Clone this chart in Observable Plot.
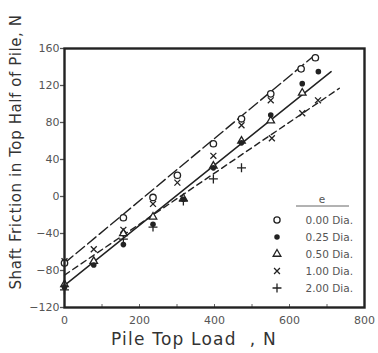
<!DOCTYPE html>
<html><head><meta charset="utf-8">
<script src="https://cdn.jsdelivr.net/npm/d3@7"></script>
<script src="https://cdn.jsdelivr.net/npm/@observablehq/plot@0.6"></script>
<style>body{margin:0;background:#fff} svg{display:block}</style>
</head><body><div id="chart"></div>
<script>
// ---- data ----
const seriesNames = ["0.00 Dia.", "0.25 Dia.", "0.50 Dia.", "1.00 Dia.", "2.00 Dia."];
const legendTitle = "e";

const load000 = [0, 157, 236, 301, 397, 472, 550, 631, 669];
const fric000 = [-72, -23, -1, 23, 57, 84, 111, 138, 150];

const load025 = [0, 78, 157, 236, 317, 397, 472, 550, 634, 677];
const fric025 = [-98, -74, -52, -30, -3, 31, 58, 88, 122, 135];

const load050 = [0, 78, 157, 236, 317, 397, 472, 550, 634];
const fric050 = [-95, -70, -40, -22, -2, 33, 60, 82, 112];

const load100 = [0, 78, 157, 236, 301, 397, 472, 550, 553, 634, 676];
const fric100 = [-70, -57, -36, -8, 15, 44, 77, 104, 63, 90, 104];

const load200 = [0, 157, 236, 317, 397, 472];
const fric200 = [-101, -46, -33, -5, 19, 31];

// fitted lines (end points)
const lineLongLoad = [0, 674],  lineLongFric = [-72, 155];   // long dashes, 0.00 Dia
const lineSolidLoad = [0, 711], lineSolidFric = [-96, 135];  // solid
const lineShortLoad = [0, 733], lineShortFric = [-85, 117];  // short dashes

const xTickLabels = [0, 200, 400, 600, 800];
const xMinorTicks = [100, 200, 300, 400, 500, 600, 700];
const yTickLabels = [-120, -80, -40, 0, 40, 80, 120, 160];

const xTitle = "Pile Top Load  , N";
const yTitle = "Shaft Friction in Top Half of Pile, N";

// ---- build tables ----
const zip = (xs, ys) => xs.map((x, i) => ({x, y: ys[i]}));
const s000 = zip(load000, fric000);
const s025 = zip(load025, fric025);
const s050 = zip(load050, fric050);
const s100 = zip(load100, fric100);
const s200 = zip(load200, fric200);
const lLong = zip(lineLongLoad, lineLongFric);
const lSolid = zip(lineSolidLoad, lineSolidFric);
const lShort = zip(lineShortLoad, lineShortFric);

const INK = "#222";
const TXT = "#555";
const FONT = "DejaVu Sans, sans-serif";

const plot = Plot.plot({
  width: 378, height: 353,
  marginLeft: 64, marginRight: 14, marginTop: 48, marginBottom: 46,
  style: {fontFamily: FONT, fontSize: "11px", background: "#fff"},
  x: {domain: [0, 800]},
  y: {domain: [-120, 160]},
  marks: [
    Plot.axisY({ticks: yTickLabels, tickSize: 4, tickPadding: 1, label: null, color: TXT, strokeWidth: 1.3}),
    Plot.axisX({ticks: xTickLabels, tickSize: 0, tickPadding: 9, label: null, color: TXT}),
    Plot.axisX({ticks: xMinorTicks, tickSize: -3, tickFormat: () => "", label: null, color: "#666"}),
    Plot.line(lLong, {x: "x", y: "y", stroke: INK, strokeWidth: 1.4, strokeDasharray: "11,4"}),
    Plot.line(lSolid, {x: "x", y: "y", stroke: INK, strokeWidth: 1.5}),
    Plot.line(lShort, {x: "x", y: "y", stroke: INK, strokeWidth: 1.4, strokeDasharray: "6,4"}),
    Plot.dot(s200, {x: "x", y: "y", symbol: "plus", r: 3, stroke: INK, strokeWidth: 1.3}),
    Plot.dot(s100, {x: "x", y: "y", symbol: "times", r: 2.8, stroke: INK, strokeWidth: 1.3}),
    Plot.dot(s050, {x: "x", y: "y", symbol: "triangle", r: 2.8, fill: "#fff", stroke: INK, strokeWidth: 1.3}),
    Plot.dot(s025, {x: "x", y: "y", symbol: "circle", r: 2.8, fill: INK, stroke: "none"}),
    Plot.dot(s000, {x: "x", y: "y", symbol: "circle", r: 3.2, fill: "#fff", stroke: INK, strokeWidth: 1.3}),
    Plot.frame({stroke: INK, strokeWidth: 2.4})
  ]
});
document.getElementById("chart").appendChild(plot);

// ---- titles & legend (layout) ----
const svg = d3.select(plot);
svg.append("text")
  .attr("transform", "translate(16,152) rotate(-90)")
  .attr("text-anchor", "middle").attr("dominant-baseline", "central")
  .attr("font-family", FONT).attr("font-size", 15).attr("letter-spacing", 0.6).attr("fill", "#333")
  .text(yTitle);
svg.append("text")
  .attr("x", 194).attr("y", 339)
  .attr("text-anchor", "middle").attr("dominant-baseline", "central")
  .attr("font-family", FONT).attr("font-size", 17).attr("letter-spacing", 1.2).attr("fill", "#333")
  .attr("xml:space", "preserve").style("white-space", "pre")
  .text(xTitle);

const lg = svg.append("g").attr("font-family", FONT).attr("font-size", 10.5).attr("fill", TXT);
lg.append("text").attr("x", 322).attr("y", 199).attr("text-anchor", "middle")
  .attr("dominant-baseline", "central").text(legendTitle);
lg.append("line").attr("x1", 296).attr("x2", 349).attr("y1", 206).attr("y2", 206)
  .attr("stroke", "#666").attr("stroke-width", 1);
const symDefs = [
  {t: d3.symbolCircle, s: 30, fill: "#fff", stroke: INK},
  {t: d3.symbolCircle, s: 24, fill: INK, stroke: "none"},
  {t: d3.symbolTriangle, s: 26, fill: "#fff", stroke: INK},
  {t: d3.symbolTimes, s: 24, fill: "none", stroke: INK},
  {t: d3.symbolPlus, s: 28, fill: "none", stroke: INK}
];
seriesNames.forEach((name, i) => {
  const y = 220 + i * 17;
  const d = symDefs[i];
  lg.append("path").attr("transform", `translate(277,${y})`)
    .attr("d", d3.symbol(d.t, d.s)())
    .attr("fill", d.fill).attr("stroke", d.stroke).attr("stroke-width", 1.3);
  lg.append("text").attr("x", 353).attr("y", y).attr("text-anchor", "end")
    .attr("dominant-baseline", "central").text(name);
});
</script>
</body></html>
